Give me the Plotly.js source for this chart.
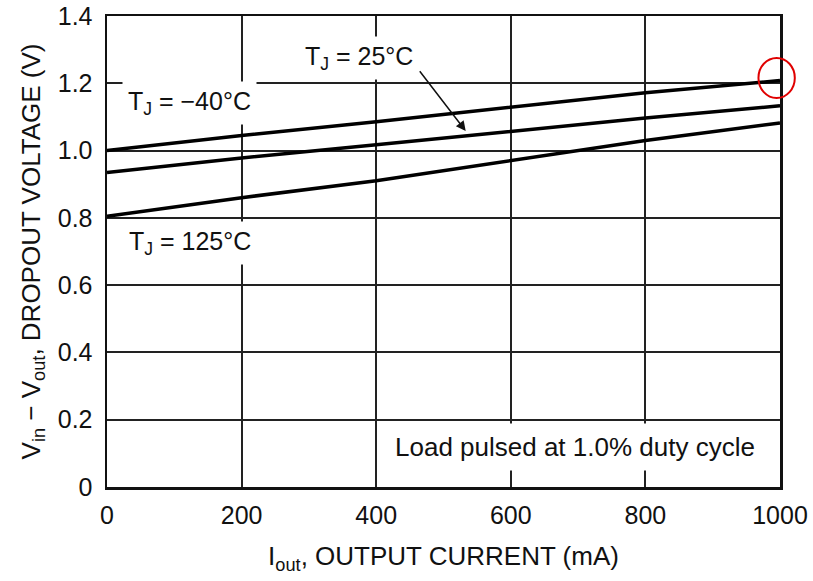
<!DOCTYPE html>
<html>
<head>
<meta charset="utf-8">
<script src="https://cdn.plot.ly/plotly-3.0.1.min.js"></script>
<style>html,body{margin:0;padding:0;background:#fff;}#chart{width:813px;height:581px;}</style>
</head>
<body>
<div id="chart"></div>
<script>
const currentMA = [0, 200, 400, 600, 800, 1000];
const vMinus40 = [1.00, 1.045, 1.086, 1.13, 1.172, 1.208];
const v25 = [0.935, 0.978, 1.017, 1.056, 1.097, 1.133];
const v125 = [0.805, 0.86, 0.91, 0.97, 1.03, 1.082];
const xTicks = [0, 200, 400, 600, 800, 1000];
const yTicks = [0, 0.2, 0.4, 0.6, 0.8, 1.0, 1.2, 1.4];
const yTickText = ['0', '0.2', '0.4', '0.6', '0.8', '1.0', '1.2', '1.4'];

const FONT = 'Liberation Sans, Arial, sans-serif';
const INK = '#111';
const lineStyle = {color: '#000', width: 3.5};
const traces = [
  {x: currentMA, y: vMinus40, mode: 'lines', line: lineStyle, name: '-40', hoverinfo: 'skip'},
  {x: currentMA, y: v25, mode: 'lines', line: lineStyle, name: '25', hoverinfo: 'skip'},
  {x: currentMA, y: v125, mode: 'lines', line: lineStyle, name: '125', hoverinfo: 'skip'}
];

const labelFont = {family: FONT, size: 25, color: INK};
const layout = {
  width: 813, height: 581,
  margin: {l: 107, r: 33, t: 16, b: 94},
  paper_bgcolor: '#fff', plot_bgcolor: '#fff',
  showlegend: false,
  font: {family: FONT, size: 25, color: INK},
  xaxis: {
    range: [0, 1000], tickvals: xTicks, ticks: '', ticklabelstandoff: 4,
    showgrid: true, gridcolor: '#222', gridwidth: 2,
    showline: true, linecolor: '#111', linewidth: 2.5, mirror: true, zeroline: false,
    tickfont: {family: FONT, size: 25, color: INK},
    title: {text: 'I<sub>out</sub>, OUTPUT CURRENT (mA)', font: {family: FONT, size: 26, color: INK}, standoff: 20}
  },
  yaxis: {
    range: [0, 1.4], tickvals: yTicks, ticktext: yTickText, ticks: '', ticklabelstandoff: 7,
    showgrid: true, gridcolor: '#222', gridwidth: 2,
    showline: true, linecolor: '#111', linewidth: 2.5, mirror: true, zeroline: false,
    tickfont: {family: FONT, size: 25, color: INK},
    title: {text: 'V<sub>in</sub> − V<sub>out</sub>, DROPOUT VOLTAGE (V)', font: {family: FONT, size: 26, color: INK}, standoff: 10}
  },
  annotations: [
    {x: 375, y: 1.275, xref: 'x', yref: 'y', text: 'T<sub>J</sub> = 25°C', showarrow: false,
     font: labelFont, bgcolor: '#fff', borderpad: 5},
    {x: 123, y: 1.142, xref: 'x', yref: 'y', text: 'T<sub>J</sub> = −40°C', showarrow: false,
     font: labelFont, bgcolor: '#fff', borderpad: 5},
    {x: 123, y: 0.725, xref: 'x', yref: 'y', text: 'T<sub>J</sub> = 125°C', showarrow: false,
     font: labelFont, bgcolor: '#fff', borderpad: 5},
    {x: 533, y: 1.058, xref: 'x', yref: 'y', ax: 463, ay: 1.24, axref: 'x', ayref: 'y',
     text: '', showarrow: true, arrowhead: 2, arrowsize: 1.3, arrowwidth: 1.5, arrowcolor: '#111'},
    {x: 696, y: 0.12, xref: 'x', yref: 'y', text: 'Load pulsed at 1.0% duty cycle', showarrow: false,
     font: {family: FONT, size: 26, color: INK}, bgcolor: '#fff', borderpad: 8}
  ],
  shapes: [
    {type: 'circle', xref: 'paper', yref: 'paper', x0: 0.968, x1: 1.022, y0: 0.826, y1: 0.911,
     line: {color: '#e00000', width: 2}}
  ]
};

Plotly.newPlot('chart', traces, layout, {displayModeBar: false, staticPlot: true});
</script>
</body>
</html>
